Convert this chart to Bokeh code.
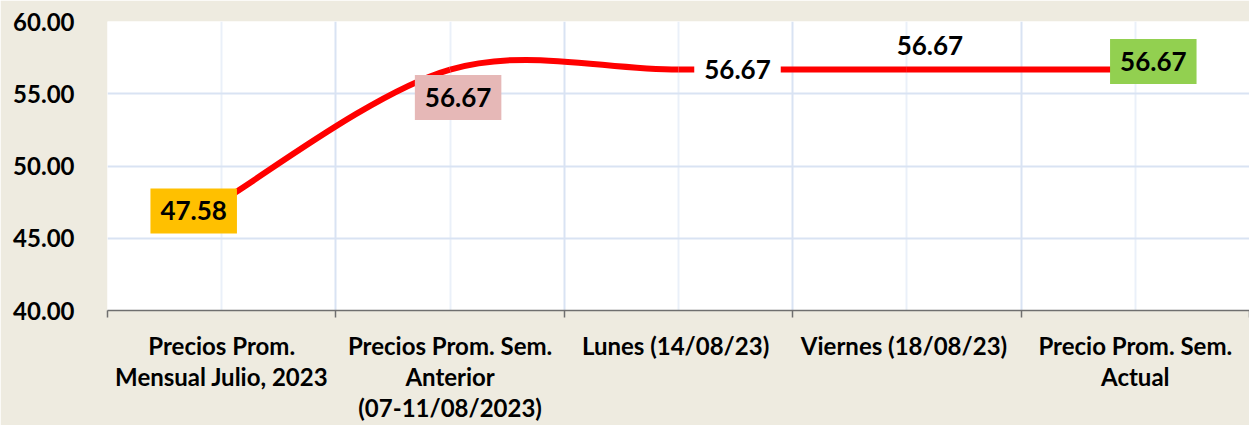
import numpy as np
from bokeh.plotting import figure
from bokeh.models import FixedTicker, Label, Range1d, PrintfTickFormatter
from bokeh.embed import file_html
from bokeh.resources import INLINE

# ---- data ----
categories = [
    "Precios Prom.\nMensual Julio, 2023",
    "Precios Prom. Sem.\nAnterior\n(07-11/08/2023)",
    "Lunes  (14/08/23)",
    "Viernes  (18/08/23)",
    "Precio Prom. Sem.\nActual",
]
prices = [47.58, 56.67, 56.67, 56.67, 56.67]
y_ticks = [40, 45, 50, 55, 60]

# ---- styles ----
label_fills = ["#FFC000", "#E6B8B7", "#FFFFFF", None, "#92D050"]
label_dx = [-28, 8, 59, 23, 18]
label_dy = [-10, -28, 0, 24, 8]
BG = "#EEEBE0"
FONT = "Lato"

n = len(categories)
xs = [i + 0.5 for i in range(n)]

p = figure(width=1249, height=425, x_range=Range1d(0, n), y_range=Range1d(40, 60),
           output_backend="svg", toolbar_location=None,
           min_border_left=107, min_border_right=0, min_border_top=21, min_border_bottom=114)
p.border_fill_color = BG
p.background_fill_color = "#FFFFFF"
p.outline_line_color = None

# axes
p.yaxis.ticker = FixedTicker(ticks=y_ticks)
p.yaxis.formatter = PrintfTickFormatter(format="%.2f")
p.yaxis.axis_line_color = None
p.yaxis.major_tick_line_color = None
p.yaxis.minor_tick_line_color = None
p.yaxis.major_tick_out = 0
p.yaxis.minor_tick_out = 0
p.yaxis.major_label_standoff = 33
p.yaxis.major_label_text_font = FONT
p.yaxis.major_label_text_font_style = "bold"
p.yaxis.major_label_text_font_size = "24px"
p.yaxis.major_label_text_color = "#000000"

xt = FixedTicker(ticks=xs, minor_ticks=list(range(n + 1)))
p.xaxis.ticker = xt
p.xaxis.major_label_overrides = {x: c for x, c in zip(xs, categories)}
p.xaxis.axis_line_color = "#6F6F6F"
p.xaxis.axis_line_width = 1.5
p.xaxis.major_tick_line_color = None
p.xaxis.major_tick_out = 0
p.xaxis.major_tick_in = 0
p.xaxis.minor_tick_line_color = "#6F6F6F"
p.xaxis.minor_tick_line_width = 1.5
p.xaxis.minor_tick_out = 7
p.xaxis.minor_tick_in = 0
p.xaxis.major_label_standoff = 13
p.xaxis.major_label_text_font = FONT
p.xaxis.major_label_text_font_style = "bold"
p.xaxis.major_label_text_font_size = "24px"
p.xaxis.major_label_text_line_height = 1.08
p.xaxis.major_label_text_color = "#000000"

# grids
p.ygrid.ticker = FixedTicker(ticks=y_ticks)
p.ygrid.grid_line_color = "#D9E3F3"
p.ygrid.grid_line_width = 2
p.xgrid.ticker = xt
p.xgrid.grid_line_color = "#EAF0F9"
p.xgrid.grid_line_width = 2
p.xgrid.minor_grid_line_color = "#D9E3F3"
p.xgrid.minor_grid_line_width = 2

# smoothed line (Catmull-Rom style Bezier, like spreadsheet smoothing)
P = list(zip(xs, prices))
def pt(i):
    return P[max(0, min(len(P) - 1, i))]
bx0, by0, bx1, by1, cx0, cy0, cx1, cy1 = [], [], [], [], [], [], [], []
for i in range(len(P) - 1):
    a, p0, p1, b = pt(i - 1), P[i], P[i + 1], pt(i + 2)
    bx0.append(p0[0]); by0.append(p0[1]); bx1.append(p1[0]); by1.append(p1[1])
    cx0.append(p0[0] + (p1[0] - a[0]) / 6); cy0.append(p0[1] + (p1[1] - a[1]) / 6)
    cx1.append(p1[0] - (b[0] - p0[0]) / 6); cy1.append(p1[1] - (b[1] - p0[1]) / 6)
p.bezier(x0=bx0, y0=by0, x1=bx1, y1=by1, cx0=cx0, cy0=cy0, cx1=cx1, cy1=cy1,
         line_color="#FF0000", line_width=6)

# value labels
for x, v, fc, dx, dy in zip(xs, prices, label_fills, label_dx, label_dy):
    lab = Label(x=x, y=v, text=f"{v:.2f}", x_offset=dx, y_offset=dy,
                text_align="center", text_baseline="middle",
                text_font=FONT, text_font_style="bold", text_font_size="26px",
                text_color="#000000", padding=(10, 13))
    if fc is not None:
        lab.background_fill_color = fc
    p.add_layout(lab)

html = file_html(p, INLINE)
html = html.replace("<body>", f'<body style="margin:0;background-color:{BG};">', 1)
open("out.html", "w").write(html)
